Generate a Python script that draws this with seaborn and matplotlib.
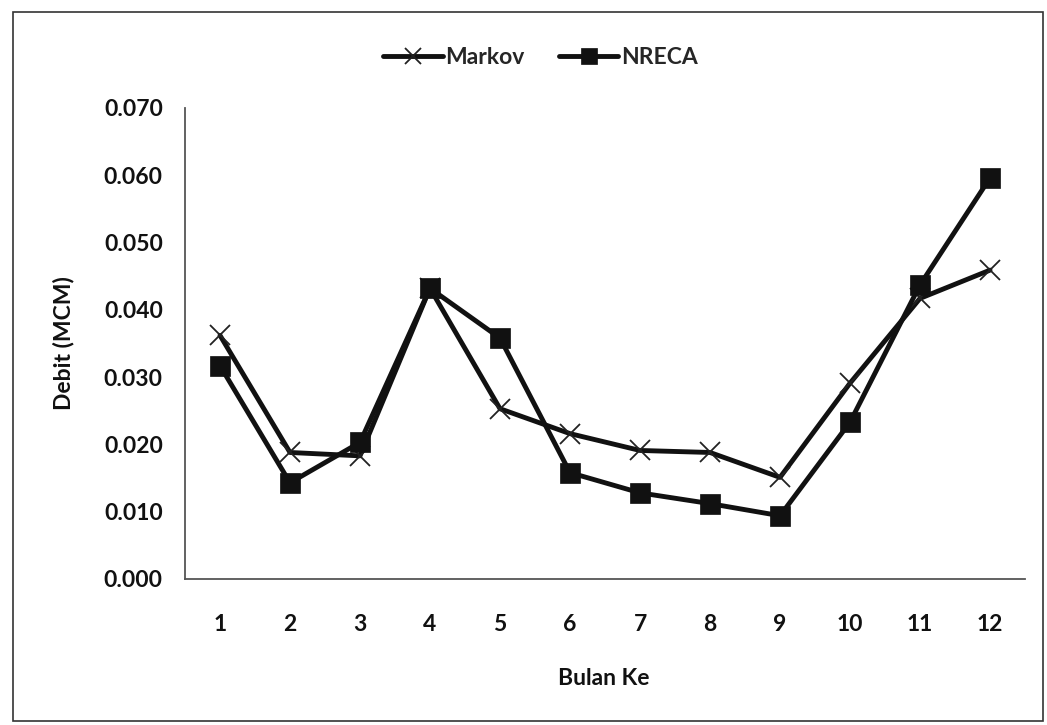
import matplotlib
matplotlib.use("Agg")
import matplotlib.pyplot as plt
from matplotlib.patches import Rectangle
import seaborn as sns
import pandas as pd

# Monthly discharge (MCM) from the two methods
bulan = [1, 2, 3, 4, 5, 6, 7, 8, 9, 10, 11, 12]
markov = [0.0362, 0.0188, 0.0183, 0.0432, 0.0253, 0.0216, 0.0191, 0.0188, 0.0151, 0.0291, 0.0417, 0.0459]
nreca = [0.0317, 0.0143, 0.0203, 0.0432, 0.0358, 0.0158, 0.0128, 0.0112, 0.0094, 0.0233, 0.0437, 0.0596]
y_ticks = [0.000, 0.010, 0.020, 0.030, 0.040, 0.050, 0.060, 0.070]

df = pd.concat([
    pd.DataFrame({"Bulan Ke": bulan, "Debit (MCM)": markov, "Metode": "Markov"}),
    pd.DataFrame({"Bulan Ke": bulan, "Debit (MCM)": nreca, "Metode": "NRECA"}),
])

sns.set_theme(style="white")
plt.rcParams["font.family"] = ["Lato", "DejaVu Sans"]
plt.rcParams["font.weight"] = "bold"

FS = 16.5
fig = plt.figure(figsize=(10.47, 7.25), dpi=100)
ax = fig.add_axes([0.1767, 0.2014, 0.8023, 0.6497])

sns.lineplot(
    data=df, x="Bulan Ke", y="Debit (MCM)", hue="Metode", style="Metode",
    markers={"Markov": "X", "NRECA": "s"}, dashes=False,
    palette={"Markov": "black", "NRECA": "black"}, ax=ax, legend=False,
)

# line and marker styling per series
for line, lab in zip(ax.lines, ["Markov", "NRECA"]):
    line.set_linewidth(3.5)
    line.set_color("#111111")
    if lab == "Markov":
        line.set_marker("x")
        line.set_markersize(14)
        line.set_markeredgewidth(1.3)
        line.set_markeredgecolor("#222222")
    else:
        line.set_marker("s")
        line.set_markersize(14)
        line.set_markerfacecolor("#111111")
        line.set_markeredgecolor("#111111")
        line.set_markeredgewidth(0.5)
    line.set_label(lab)

ax.set_xlim(0.5, 12.5)
ax.set_ylim(0, 0.07)
ax.set_xticks(bulan)
ax.set_xticklabels([str(b) for b in bulan])
ax.set_yticks(y_ticks)
ax.set_yticklabels([f"{v:.3f}" for v in y_ticks])
ax.tick_params(axis="both", length=0, labelsize=FS, colors="#111111")
ax.tick_params(axis="y", pad=16)
ax.tick_params(axis="x", pad=25)
for t in ax.get_xticklabels() + ax.get_yticklabels():
    t.set_fontweight("bold")

for side in ["top", "right"]:
    ax.spines[side].set_visible(False)
for side in ["left", "bottom"]:
    ax.spines[side].set_color("#555555")
    ax.spines[side].set_linewidth(1.3)

ax.set_xlabel("Bulan Ke", fontsize=FS, fontweight="bold", color="#111111")
ax.set_ylabel("Debit (MCM)", fontsize=FS, fontweight="bold", color="#111111")
ax.xaxis.label.set_va("center")
ax.yaxis.label.set_va("center")
ax.xaxis.set_label_coords(0.499, -0.212)
ax.yaxis.set_label_coords(-0.145, 0.5)

leg = ax.legend(
    loc="center", bbox_to_anchor=(0.423, 1.108), ncol=2, frameon=False,
    fontsize=FS, handlelength=2.6, columnspacing=1.5, handletextpad=0.1,
)
for t in leg.get_texts():
    t.set_fontweight("bold")
for h in leg.legend_handles:
    h.set_markersize(11)

# outer chart border
fig.patches.append(Rectangle((0.0124, 0.005), 0.9838, 0.979, transform=fig.transFigure,
                             fill=False, edgecolor="#333333", linewidth=1.2))

fig.savefig("out.png", dpi=100)
